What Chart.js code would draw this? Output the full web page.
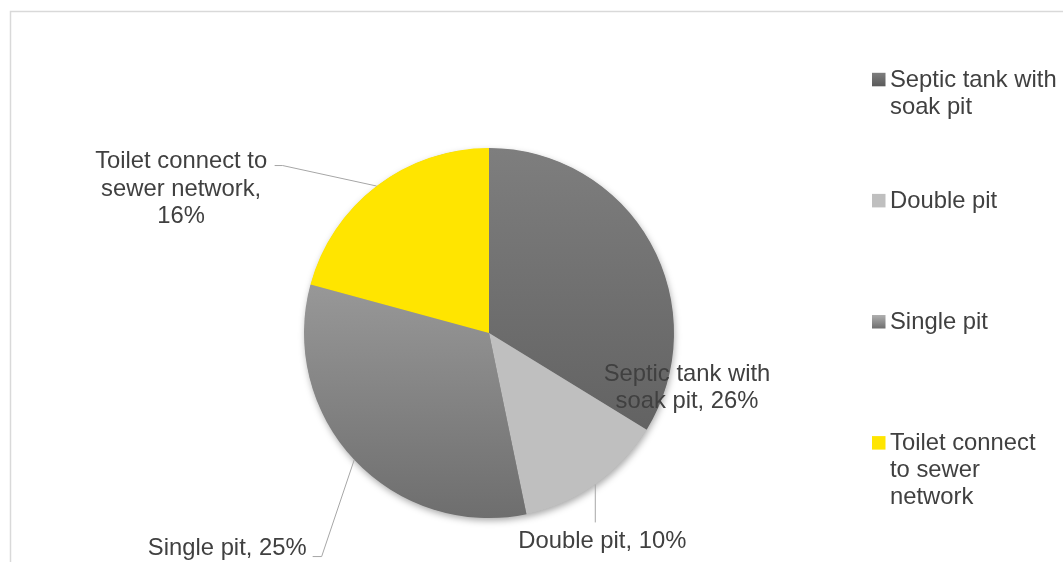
<!DOCTYPE html>
<html>
<head>
<meta charset="utf-8">
<script src="https://cdn.jsdelivr.net/npm/chart.js@4.4.1/dist/chart.umd.min.js"></script>
<style>
  html, body { margin: 0; padding: 0; background: #fff; }
</style>
</head>
<body>
<canvas id="chart" width="1063" height="562"></canvas>
<script>
const categories = ['Septic tank with soak pit', 'Double pit', 'Single pit', 'Toilet connect to sewer network'];
const shares = [26, 10, 25, 16];
// slices are shaded top -> bottom; flat fills repeat the same colour
const shadeTop = ['#7e7e7e', '#bfbfbf', '#b0b0b0', '#ffe500'];
const shadeBottom = ['#5a5a5a', '#bfbfbf', '#6e6e6e', '#ffe500'];

const FONT = '23.8px "Liberation Sans", Arial, sans-serif';
const TEXT_COLOR = '#404040';
const LINE_H = 27.5;

// data label placement, offsets measured from the middle of each slice's rim
const labelPlacement = [
  { dx: 36.5, dy: 143.4, wrap: 180, leader: null },
  { dx: 7, dy: 54.7, wrap: 400, leader: { ex: 0, ey: 38, tail: 0 } },
  { dx: -127, dy: 87, wrap: 400, leader: { ex: -32.6, ey: 96.8, tail: -9 } },
  { dx: -195.5, dy: 1, wrap: 180, leader: { ex: -94, ey: -20.5, tail: -8 } },
];

function wrapWords(ctx, text, maxWidth) {
  const words = text.split(' ');
  const lines = [];
  let line = '';
  for (const w of words) {
    const test = line ? line + ' ' + w : w;
    if (line && ctx.measureText(test).width > maxWidth) {
      lines.push(line);
      line = w;
    } else {
      line = test;
    }
  }
  if (line) lines.push(line);
  return lines;
}

function shade(ctx, i, top, bottom) {
  const g = ctx.createLinearGradient(0, top, 0, bottom);
  g.addColorStop(0, shadeTop[i]);
  g.addColorStop(1, shadeBottom[i]);
  return g;
}

// light frame around the whole chart
const framePlugin = {
  id: 'frame',
  beforeDraw(chart) {
    const ctx = chart.ctx;
    ctx.save();
    ctx.strokeStyle = '#d9d9d9';
    ctx.lineWidth = 1.5;
    ctx.strokeRect(10.5, 11.5, 1200, 700);
    ctx.restore();
  }
};

// soft drop shadow under the pie
const shadowPlugin = {
  id: 'pieShadow',
  beforeDatasetsDraw(chart) {
    const arc = chart.getDatasetMeta(0).data[0];
    if (!arc) return;
    const ctx = chart.ctx;
    ctx.save();
    ctx.shadowColor = 'rgba(0,0,0,0.35)';
    ctx.shadowBlur = 7;
    ctx.shadowOffsetX = 1;
    ctx.shadowOffsetY = 3;
    ctx.fillStyle = '#8a8a8a';
    ctx.beginPath();
    ctx.arc(arc.x, arc.y, arc.outerRadius - 0.5, 0, Math.PI * 2);
    ctx.fill();
    ctx.restore();
  }
};

// "Category, NN%" labels with leader lines
const labelPlugin = {
  id: 'sliceLabels',
  afterDatasetsDraw(chart) {
    const ctx = chart.ctx;
    const arcs = chart.getDatasetMeta(0).data;
    ctx.save();
    ctx.font = FONT;
    arcs.forEach((arc, i) => {
      const p = labelPlacement[i];
      const mid = (arc.startAngle + arc.endAngle) / 2;
      const ex = arc.x + Math.cos(mid) * arc.outerRadius;
      const ey = arc.y + Math.sin(mid) * arc.outerRadius;

      if (p.leader) {
        const bx = ex + p.leader.ex;
        const by = ey + p.leader.ey;
        ctx.strokeStyle = '#a6a6a6';
        ctx.lineWidth = 1;
        ctx.beginPath();
        ctx.moveTo(ex, ey);
        ctx.lineTo(bx, by);
        if (p.leader.tail) ctx.lineTo(bx + p.leader.tail, by);
        ctx.stroke();
      }

      const text = categories[i] + ', ' + shares[i] + '%';
      const lines = wrapWords(ctx, text, p.wrap);
      const cx = ex + p.dx;
      const cy = ey + p.dy;
      const cap = 17;
      ctx.fillStyle = TEXT_COLOR;
      ctx.textAlign = 'center';
      ctx.textBaseline = 'alphabetic';
      lines.forEach((ln, k) => {
        const y = cy - (lines.length - 1) * LINE_H / 2 + k * LINE_H + cap / 2;
        ctx.fillText(ln, cx, y);
      });
    });
    ctx.restore();
  }
};

// legend on the right, items spread evenly down the frame
const legendPlugin = {
  id: 'sideLegend',
  afterDraw(chart) {
    const ctx = chart.ctx;
    const markX = 872, textX = 890, firstBase = 86.8, step = 121.1;
    ctx.save();
    ctx.font = FONT;
    ctx.textAlign = 'left';
    ctx.textBaseline = 'alphabetic';
    categories.forEach((name, i) => {
      const base = firstBase + i * step;
      const top = base - 14;
      ctx.fillStyle = shade(ctx, i, top, top + 13.5);
      ctx.fillRect(markX, top, 13.5, 13.5);
      ctx.fillStyle = TEXT_COLOR;
      wrapWords(ctx, name, 169).forEach((ln, k) => {
        ctx.fillText(ln, textX, base + k * 27);
      });
    });
    ctx.restore();
  }
};

new Chart(document.getElementById('chart'), {
  type: 'pie',
  data: {
    labels: categories,
    datasets: [{
      data: shares,
      backgroundColor: (c) => {
        const area = c.chart.chartArea;
        if (!area) return shadeTop[c.dataIndex];
        return shade(c.chart.ctx, c.dataIndex, area.top, area.bottom);
      },
      borderWidth: 0
    }]
  },
  options: {
    responsive: false,
    animation: false,
    events: [],
    layout: {
      padding: { left: 304, right: 389, top: 148, bottom: 44 }
    },
    plugins: {
      legend: { display: false },
      tooltip: { enabled: false }
    }
  },
  plugins: [framePlugin, shadowPlugin, labelPlugin, legendPlugin]
});
</script>
</body>
</html>
